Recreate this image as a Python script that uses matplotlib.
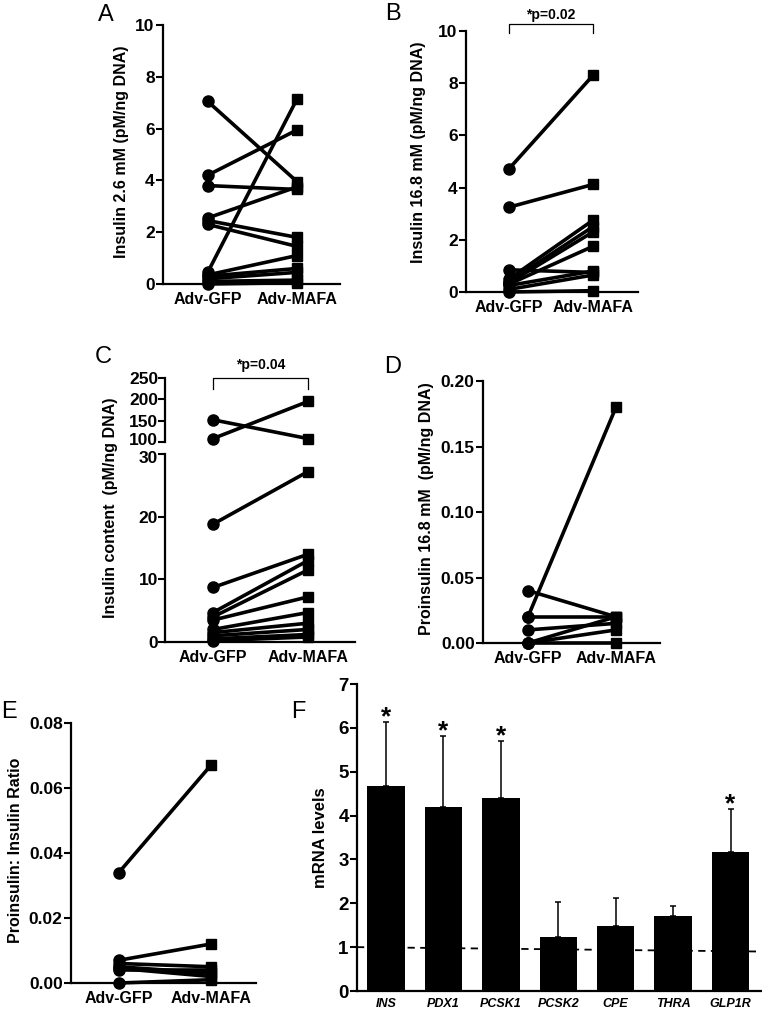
import numpy as np
from matplotlib import pyplot as plt
from matplotlib import transforms

plt.rcParams['font.family'] = ['Liberation Sans', 'DejaVu Sans']
plt.rcParams['font.weight'] = 'bold'
plt.rcParams['axes.labelweight'] = 'bold'

W, H = 762, 1013
GROUPS = ['Adv-GFP', 'Adv-MAFA']

# Panel A: insulin at 2.6 mM (pM/ng DNA), paired islet preparations
insLowGFP = [7.05, 4.2, 3.8, 2.55, 2.45, 2.3, 0.45, 0.35, 0.3, 0.2, 0.1, 0.0]
insLowMAFA = [3.95, 5.95, 3.65, 3.75, 1.8, 1.45, 7.15, 1.1, 0.6, 0.45, 0.15, 0.05]

# Panel B: insulin at 16.8 mM
insHighGFP = [4.72, 3.25, 0.85, 0.5, 0.4, 0.35, 0.3, 0.25, 0.1, 0.0]
insHighMAFA = [8.3, 4.12, 0.75, 2.75, 2.5, 2.3, 1.75, 0.8, 0.65, 0.05]

# Panel C: insulin content (broken axis 0-30 / 100-250)
contentGFP = [152, 108, 18.8, 8.7, 4.7, 4.0, 3.5, 2.0, 1.5, 1.0, 0.5, 0.2]
contentMAFA = [108, 195, 27.2, 14.0, 13.0, 11.5, 7.2, 4.7, 3.0, 2.0, 1.2, 0.8]

# Panel D: proinsulin at 16.8 mM
proGFP = [0.04, 0.02, 0.02, 0.01, 0.0, 0.0, 0.0]
proMAFA = [0.02, 0.18, 0.02, 0.015, 0.02, 0.01, 0.0]

# Panel E: proinsulin:insulin ratio
ratioGFP = [0.034, 0.007, 0.006, 0.005, 0.0045, 0.004, 0.0]
ratioMAFA = [0.067, 0.012, 0.005, 0.003, 0.002, 0.004, 0.001]

# Panel F: mRNA levels
genes = ['INS', 'PDX1', 'PCSK1', 'PCSK2', 'CPE', 'THRA', 'GLP1R']
mrnaMean = [4.68, 4.19, 4.4, 1.22, 1.49, 1.71, 3.17]
mrnaErr = [1.45, 1.63, 1.3, 0.8, 0.64, 0.22, 0.98]
significant = [True, True, True, False, False, False, True]


def axesAt(fig, left, top, right, bottom):
    '''pixel box -> axes'''
    return fig.add_axes([left / W, 1 - bottom / H, (right - left) / W, (bottom - top) / H])


def styleAxes(ax, tickSize=12.5):
    for side in ['top', 'right']:
        ax.spines[side].set_visible(False)
    for side in ['left', 'bottom']:
        ax.spines[side].set_linewidth(1.6)
    ax.tick_params(axis='y', direction='out', length=5, width=1.5, labelsize=tickSize, pad=1)
    ax.tick_params(axis='x', length=0, labelsize=11.5, pad=6)


def pairedLines(ax, gfp, mafa):
    for a, b in zip(gfp, mafa):
        ax.plot([0, 1], [a, b], color='black', lw=2.6, zorder=2, clip_on=False)
    ax.plot(np.zeros(len(gfp)), gfp, 'o', color='black', ms=8, zorder=3, clip_on=False)
    ax.plot(np.ones(len(mafa)), mafa, 's', color='black', ms=7.5, zorder=3, clip_on=False)


def yLabelAt(fig, ax, text, xRight, yMid, size=11.5):
    ax.set_ylabel(text, fontsize=size)
    ax.yaxis.set_label_coords(xRight / W, 1 - yMid / H, transform=fig.transFigure)


def bracket(ax, top, bottom, textY, label):
    ax.plot([0, 0, 1, 1], [bottom, top, top, bottom], color='black', lw=0.9, clip_on=False)
    ax.text(0.5, textY, label, ha='center', va='center', fontsize=10)


def letter(fig, x, y, s):
    fig.text(x / W, 1 - y / H, s, fontsize=17, fontweight='normal', ha='center', va='center')


def nudgeLabel(fig, label, dyPoints):
    label.set_transform(label.get_transform() +
                        transforms.ScaledTranslation(0, dyPoints / 72, fig.dpi_scale_trans))


fig = plt.figure(figsize=(W / 100, H / 100), dpi=100)

# A
axA = axesAt(fig, 163, 25, 340, 284)
pairedLines(axA, insLowGFP, insLowMAFA)
axA.set_ylim(0, 10)
axA.set_yticks([0, 2, 4, 6, 8, 10])
axA.set_xlim(-0.5, 1.48)
axA.set_xticks([0, 1], GROUPS)
styleAxes(axA)
yLabelAt(fig, axA, 'Insulin 2.6 mM (pM/ng DNA)', 129, 152)
letter(fig, 106, 15, 'A')

# B
axB = axesAt(fig, 466, 31, 638, 292)
pairedLines(axB, insHighGFP, insHighMAFA)
axB.set_ylim(0, 10)
axB.set_yticks([0, 2, 4, 6, 8, 10])
axB.set_xlim(-0.512, 1.536)
axB.set_xticks([0, 1], GROUPS)
styleAxes(axB)
yLabelAt(fig, axB, 'Insulin 16.8 mM (pM/ng DNA)', 426, 152)
bracket(axB, 10.27, 9.92, 10.62, '*p=0.02')
letter(fig, 393, 14, 'B')

# C (broken axis)
axCt = axesAt(fig, 165, 378, 355, 442)
axCb = axesAt(fig, 165, 454, 355, 642)
for ax in [axCt, axCb]:
    ax.set_xlim(-0.505, 1.495)
upper = [(a, b) for a, b in zip(contentGFP, contentMAFA) if min(a, b) >= 100]
lower = [(a, b) for a, b in zip(contentGFP, contentMAFA) if max(a, b) <= 30]
pairedLines(axCt, [p[0] for p in upper], [p[1] for p in upper])
pairedLines(axCb, [p[0] for p in lower], [p[1] for p in lower])
axCt.set_ylim(100, 250)
axCt.set_yticks([100, 150, 200, 250])
axCb.set_ylim(0, 30)
axCb.set_yticks([0, 10, 20, 30])
axCb.set_xticks([0, 1], GROUPS)
styleAxes(axCt)
styleAxes(axCb)
axCt.spines['bottom'].set_visible(False)
axCt.set_xticks([])
for ax in [axCt, axCb]:
    ax.tick_params(axis='y', pad=0)
# keep the two labels at the break apart
nudgeLabel(fig, axCt.get_yticklabels()[0], 2.5)
nudgeLabel(fig, axCb.get_yticklabels()[-1], -2.0)
bracket(axCt, 250, 224, 281, '*p=0.04')
fig.text(118 / W, 1 - 508 / H, 'Insulin content  (pM/ng DNA)', rotation=90,
         ha='right', va='center', fontsize=11.5)
letter(fig, 103, 357, 'C')

# D
axD = axesAt(fig, 483, 381, 660, 643)
pairedLines(axD, proGFP, proMAFA)
axD.set_ylim(0, 0.2)
axD.set_yticks([0, 0.05, 0.1, 0.15, 0.2], ['0.00', '0.05', '0.10', '0.15', '0.20'])
axD.set_xlim(-0.511, 1.5)
axD.set_xticks([0, 1], GROUPS)
styleAxes(axD)
yLabelAt(fig, axD, 'Proinsulin 16.8 mM  (pM/ng DNA)', 434, 509)
letter(fig, 393, 367, 'D')

# E
axE = axesAt(fig, 71, 723, 256, 983)
pairedLines(axE, ratioGFP, ratioMAFA)
axE.set_ylim(0, 0.08)
axE.set_yticks([0, 0.02, 0.04, 0.06, 0.08], ['0.00', '0.02', '0.04', '0.06', '0.08'])
axE.set_xlim(-0.52, 1.49)
axE.set_xticks([0, 1], GROUPS)
styleAxes(axE)
yLabelAt(fig, axE, 'Proinsulin: Insulin Ratio', 23, 850)
letter(fig, 9, 712, 'E')

# F
axF = axesAt(fig, 357, 684, 761, 991)
xF = np.arange(len(genes))
axF.bar(xF, mrnaMean, width=0.65, color='black', zorder=2)
axF.errorbar(xF, mrnaMean, yerr=[np.zeros(len(genes)), mrnaErr], fmt='none',
             ecolor='black', elinewidth=1.1, capsize=2, capthick=1.1, zorder=1)
for x, m, e, sig in zip(xF, mrnaMean, mrnaErr, significant):
    if sig:
        axF.text(x, m + e - 0.17, '*', ha='center', va='bottom', fontsize=19)
axF.plot([-0.506, 6.53], [1.0, 0.9], color='black', lw=1.3, ls=(0, (4, 3)), zorder=3)
axF.set_xlim(-0.506, 6.53)
axF.set_ylim(0, 7)
axF.set_yticks(range(8))
axF.set_xticks(xF, genes)
styleAxes(axF, tickSize=13.5)
axF.tick_params(axis='x', labelsize=9, pad=5)
for lab in axF.get_xticklabels():
    lab.set_fontstyle('italic')
yLabelAt(fig, axF, 'mRNA levels', 328, 838, size=12)
letter(fig, 298, 712, 'F')

fig.savefig('out.png', dpi=100)
